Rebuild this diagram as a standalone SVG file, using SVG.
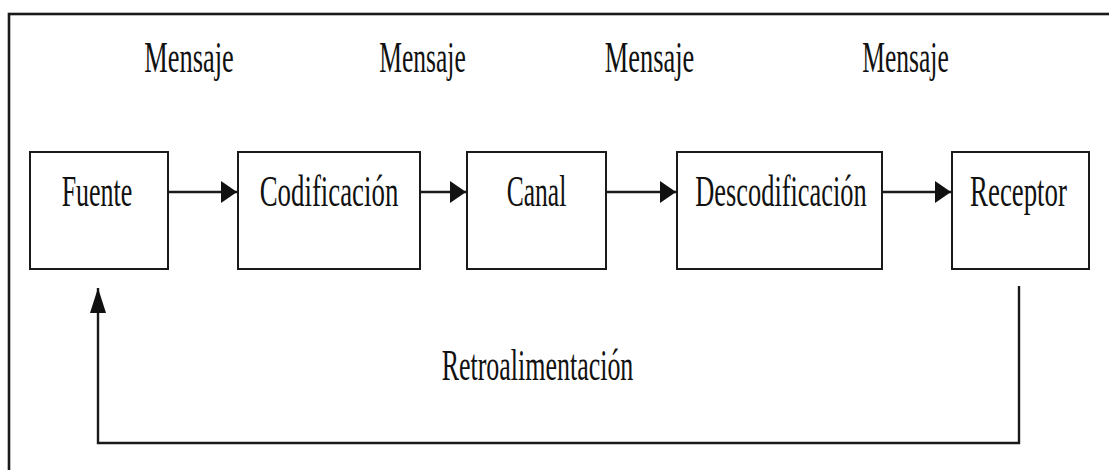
<svg xmlns="http://www.w3.org/2000/svg" width="1109" height="470" viewBox="0 0 1109 470">
  <style>
    .box { fill: #ffffff; stroke: #1a1a1a; stroke-width: 2; }
    .lbl { font-family: "Liberation Serif", "Times New Roman", serif; font-size: 44px; fill: #111111; text-anchor: middle; }
    .conn { fill: none; stroke: #1a1a1a; stroke-width: 2.4; }
  </style>
  <defs>
    <marker id="ah" markerUnits="userSpaceOnUse" markerWidth="17" markerHeight="24" refX="16" refY="11" orient="auto">
      <polygon points="0,0 16,11 0,22" fill="#111111"/>
    </marker>
    <marker id="av" markerUnits="userSpaceOnUse" markerWidth="26" markerHeight="18" refX="25" refY="8" orient="auto">
      <polygon points="0,0 25,8 0,16" fill="#111111"/>
    </marker>
  </defs>
  <rect width="1109" height="470" fill="#ffffff"/>
  <rect x="9" y="14" width="1120" height="480" fill="none" stroke="#1a1a1a" stroke-width="2.6"/>

  <g id="labels-mensaje">
    <text class="lbl" transform="translate(189,72) scale(0.6,1)">Mensaje</text>
    <text class="lbl" transform="translate(422.5,72) scale(0.58,1)">Mensaje</text>
    <text class="lbl" transform="translate(649.5,72) scale(0.6,1)">Mensaje</text>
    <text class="lbl" transform="translate(905.5,72) scale(0.58,1)">Mensaje</text>
  </g>

  <g id="node-fuente">
    <rect class="box" x="30" y="152" width="138" height="117"/>
    <text class="lbl" transform="translate(97,206) scale(0.59,1)">Fuente</text>
  </g>
  <g id="node-codificacion">
    <rect class="box" x="238" y="152" width="182" height="117"/>
    <text class="lbl" transform="translate(329,206) scale(0.61,1)">Codificación</text>
  </g>
  <g id="node-canal">
    <rect class="box" x="467" y="152" width="139" height="117"/>
    <text class="lbl" transform="translate(536.5,206) scale(0.58,1)">Canal</text>
  </g>
  <g id="node-descodificacion">
    <rect class="box" x="677" y="152" width="205" height="117"/>
    <text class="lbl" transform="translate(781,206) scale(0.6,1)">Descodificación</text>
  </g>
  <g id="node-receptor">
    <rect class="box" x="952" y="152" width="137" height="117"/>
    <text class="lbl" transform="translate(1018.5,206) scale(0.61,1)">Receptor</text>
  </g>

  <g id="connectors">
    <line class="conn" x1="168" y1="192" x2="237" y2="192" marker-end="url(#ah)"/>
    <line class="conn" x1="420" y1="192" x2="466" y2="192" marker-end="url(#ah)"/>
    <line class="conn" x1="606" y1="192" x2="676" y2="192" marker-end="url(#ah)"/>
    <line class="conn" x1="882" y1="192" x2="951" y2="192" marker-end="url(#ah)"/>
    <polyline class="conn" points="1019,286 1019,443 98,443 98,288" marker-end="url(#av)"/>
    <text class="lbl" transform="translate(537.5,380) scale(0.59,1)">Retroalimentación</text>
  </g>
</svg>
